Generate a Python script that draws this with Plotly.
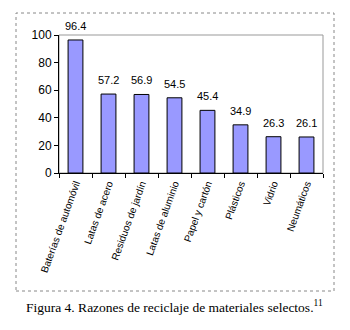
import plotly.graph_objects as go

categories = ["Baterías de automóvil", "Latas de acero", "Residuos de jardín",
              "Latas de aluminio", "Papel y cartón", "Plásticos", "Vidrio", "Neumáticos"]
values = [96.4, 57.2, 56.9, 54.5, 45.4, 34.9, 26.3, 26.1]
value_labels = ["96.4", "57.2", "56.9", "54.5", "45.4", "34.9", "26.3", "26.1"]
y_ticks = [0, 20, 40, 60, 80, 100]

L, R, T, B = 59, 27, 35, 157
W, H = 350, 330
pw, ph = W - L - R, H - T - B

def px(x):
    return (x - L) / pw

def py(y):
    return (H - B - y) / ph

fig = go.Figure(go.Bar(
    x=categories, y=values,
    marker=dict(color="#9999FF", line=dict(color="black", width=1)),
))

annotations = [
    dict(x=c, y=v, text=t, xref="x", yref="y", showarrow=False,
         yanchor="bottom", yshift=6,
         font=dict(family="Liberation Sans, Arial", size=11, color="black"))
    for c, v, t in zip(categories, values, value_labels)
]
annotations.append(
    dict(text="Figura 4. Razones de reciclaje de materiales selectos.<sup>11</sup>",
         xref="paper", yref="paper", x=px(174), y=py(306),
         xanchor="center", yanchor="middle", showarrow=False,
         font=dict(family="Liberation Serif, Times New Roman", size=13.5, color="black"))
)

fig.update_layout(
    width=W, height=H, margin=dict(l=L, r=R, t=T, b=B),
    paper_bgcolor="white", plot_bgcolor="white",
    bargap=0.55, showlegend=False,
    font=dict(family="Liberation Sans, Arial", size=11, color="black"),
    xaxis=dict(tickangle=-70, tickson="boundaries", ticks="outside", ticklen=4,
               tickcolor="black", showline=True, linecolor="black", linewidth=1,
               tickfont=dict(size=10), showgrid=False),
    yaxis=dict(range=[0, 100], tickvals=y_ticks, ticks="outside", ticklen=4,
               tickcolor="black", showline=True, linecolor="black", linewidth=1,
               showgrid=False, zeroline=False, tickfont=dict(size=12)),
    shapes=[
        dict(type="rect", xref="paper", yref="paper", x0=0, x1=1, y0=0, y1=1,
             line=dict(color="#999999", width=1), layer="below"),
        dict(type="rect", xref="paper", yref="paper",
             x0=px(16), x1=px(334), y0=py(291), y1=py(13),
             line=dict(color="#888888", width=1, dash="dot")),
    ],
    annotations=annotations,
)

fig.write_html("out.html")
